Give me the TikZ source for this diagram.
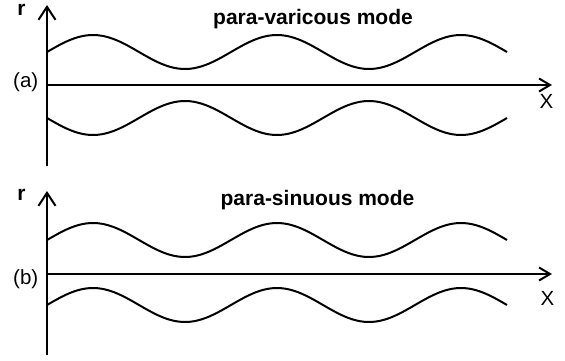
\documentclass[tikz,border=0pt]{standalone}
\usepackage{fontspec}
\setmainfont{Liberation Sans}
\usetikzlibrary{arrows.meta}
\begin{document}
\begin{tikzpicture}[x=1pt,y=-1pt,
  axis/.style={line width=2pt},
  varrow/.style={-{Straight Barb[length=13pt,width=17pt,line width=2pt]}},
  harrow/.style={-{Straight Barb[length=11pt,width=13pt,line width=2pt]}},
  wave/.style={line width=2pt,smooth,samples=120},
  title/.style={font=\fontsize{21}{25}\selectfont\bfseries,anchor=base,inner sep=0pt},
  lab/.style={font=\fontsize{20.5}{24}\selectfont,inner sep=0pt},
  rlab/.style={font=\fontsize{21}{25}\selectfont\bfseries,anchor=base,inner sep=0pt}]
\useasboundingbox (0,0) rectangle (565,361);
% panel (a)
\coordinate (aB) at (47,166);
\coordinate (aT) at (47,5);
\coordinate (aO) at (47,85);
\coordinate (aX) at (552,85);
\draw[axis,varrow] (aB) -- (aT);
\draw[axis,harrow] (aO) -- (aX);
\draw[wave] plot[domain=47:507] (\x,{52-17*sin((\x-47)/184*360)});
\draw[wave] plot[domain=47:507] (\x,{118+17*sin((\x-47)/184*360)});
\node[title] (ta) at (313,25) {para-varicous mode};
\node[rlab] (ra) at (21.5,15.5) {r};
\node[lab,anchor=base east] (la) at (38.5,87.5) {(a)};
\node[lab,anchor=base] (xa) at (546.5,108) {X};
% panel (b)
\coordinate (bB) at (47,355);
\coordinate (bT) at (47,191);
\coordinate (bO) at (47,274);
\coordinate (bX) at (552,274);
\draw[axis,varrow] (bB) -- (bT);
\draw[axis,harrow] (bO) -- (bX);
\draw[wave] plot[domain=47:507] (\x,{240-17*sin((\x-47)/184*360)});
\draw[wave] plot[domain=47:507] (\x,{305-17*sin((\x-47)/184*360)});
\node[title] (tb) at (317.5,205) {para-sinuous mode};
\node[rlab] (rb) at (21.5,200) {r};
\node[lab,anchor=base east] (lb) at (38.5,284) {(b)};
\node[lab,anchor=base] (xb) at (547.5,305) {X};
\end{tikzpicture}
\end{document}
